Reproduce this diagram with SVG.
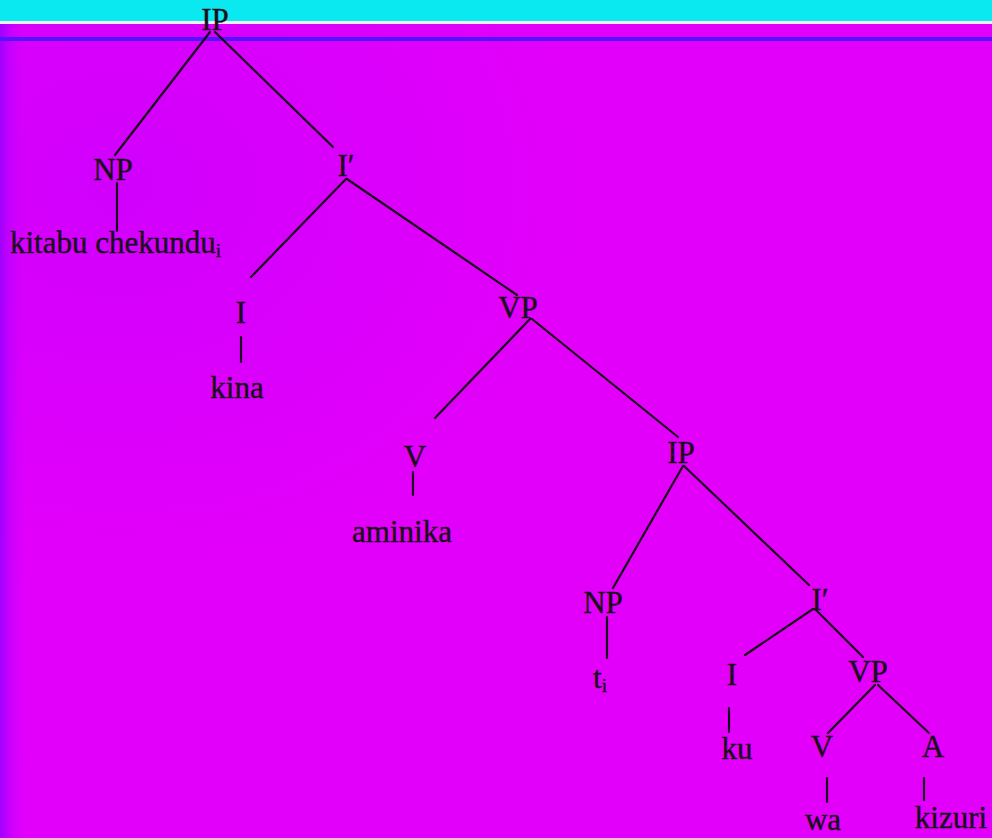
<svg xmlns="http://www.w3.org/2000/svg" width="992" height="838" viewBox="0 0 992 838">
  <defs>
    <linearGradient id="leftFade" x1="0" y1="0" x2="1" y2="0">
      <stop offset="0" stop-color="#a000ff" stop-opacity="1"/>
      <stop offset="0.012" stop-color="#c000fe" stop-opacity="0.6"/>
      <stop offset="0.03" stop-color="#e000fb" stop-opacity="0"/>
    </linearGradient>
    <radialGradient id="tlPurple" cx="0.12" cy="0.2" r="0.5">
      <stop offset="0" stop-color="#c400ff" stop-opacity="0.6"/>
      <stop offset="1" stop-color="#c400ff" stop-opacity="0"/>
    </radialGradient>
    <style>
      .lbl { font-family: "Liberation Serif", "Times New Roman", serif; font-size: 31px; fill: #1a0d1c; stroke: #1a0d1c; stroke-width: 0.4; text-anchor: middle; }
      .word { font-family: "Liberation Serif", "Times New Roman", serif; font-size: 31px; fill: #1a0d1c; stroke: #1a0d1c; stroke-width: 0.4; text-anchor: start; }
      .sub { font-size: 19px; }
      .edge { stroke: #1a0d1c; stroke-width: 2.2; fill: none; stroke-linecap: round; }
    </style>
  </defs>

  <!-- background -->
  <rect x="0" y="0" width="992" height="838" fill="#e300fa"/>
  <rect x="0" y="24" width="992" height="814" fill="url(#tlPurple)"/>
  <rect x="0" y="24" width="992" height="814" fill="url(#leftFade)"/>
  <rect x="0" y="0" width="992" height="21" fill="#0ae9ef"/>
  <rect x="0" y="21" width="992" height="3" fill="#f2eef4"/>
  <rect x="0" y="37" width="992" height="4" fill="#5214ff"/>

  <!-- connectors -->
  <g id="connectors" class="edge">
    <line x1="210" y1="32" x2="115" y2="155"/>
    <line x1="215" y1="32" x2="333" y2="147"/>
    <line x1="117" y1="183" x2="117" y2="231"/>
    <line x1="346" y1="179" x2="251" y2="277"/>
    <line x1="347" y1="179" x2="517" y2="295"/>
    <line x1="241" y1="337" x2="241" y2="362"/>
    <line x1="530" y1="319" x2="435" y2="418"/>
    <line x1="532" y1="319" x2="678" y2="437"/>
    <line x1="413" y1="472" x2="413" y2="495"/>
    <line x1="683" y1="466" x2="613" y2="588"/>
    <line x1="684" y1="466" x2="809" y2="585"/>
    <line x1="607" y1="617" x2="607" y2="658"/>
    <line x1="813" y1="609" x2="745" y2="655"/>
    <line x1="815" y1="609" x2="863" y2="657"/>
    <line x1="729" y1="708" x2="729" y2="732"/>
    <line x1="875" y1="685" x2="828" y2="733"/>
    <line x1="878" y1="685" x2="929" y2="733"/>
    <line x1="827" y1="778" x2="827" y2="802"/>
    <line x1="924" y1="778" x2="924" y2="800"/>
  </g>

  <!-- nodes -->
  <g id="n-ip1"><text class="lbl" x="215" y="30">IP</text></g>
  <g id="n-np1"><text class="lbl" x="113" y="180">NP</text></g>
  <g id="n-kitabu"><text class="word" x="10" y="253">kitabu chekundu<tspan class="sub" dy="4">i</tspan></text></g>
  <g id="n-ibar1"><text class="lbl" x="346" y="176">I′</text></g>
  <g id="n-i1"><text class="lbl" x="241" y="323">I</text></g>
  <g id="n-kina"><text class="lbl" x="237" y="398">kina</text></g>
  <g id="n-vp1"><text class="lbl" x="518" y="318">VP</text></g>
  <g id="n-v1"><text class="lbl" x="415" y="467">V</text></g>
  <g id="n-aminika"><text class="lbl" x="402" y="542">aminika</text></g>
  <g id="n-ip2"><text class="lbl" x="681" y="463">IP</text></g>
  <g id="n-np2"><text class="lbl" x="603" y="613">NP</text></g>
  <g id="n-t"><text class="word" x="593" y="688">t<tspan class="sub" dy="4">i</tspan></text></g>
  <g id="n-ibar2"><text class="lbl" x="820" y="610">I′</text></g>
  <g id="n-i2"><text class="lbl" x="732" y="685">I</text></g>
  <g id="n-ku"><text class="lbl" x="737" y="759">ku</text></g>
  <g id="n-vp2"><text class="lbl" x="868" y="682">VP</text></g>
  <g id="n-v2"><text class="lbl" x="822" y="757">V</text></g>
  <g id="n-wa"><text class="lbl" x="823" y="830">wa</text></g>
  <g id="n-a"><text class="lbl" x="933" y="757">A</text></g>
  <g id="n-kizuri"><text class="lbl" x="951" y="828">kizuri</text></g>
</svg>
